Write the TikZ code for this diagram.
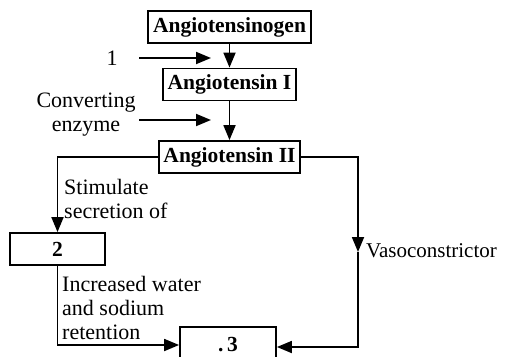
\documentclass[tikz,border=0pt]{standalone}
\usepackage{fontspec}
\setmainfont{Liberation Serif}
\usetikzlibrary{arrows.meta}
\begin{document}
\begin{tikzpicture}[x=1pt,y=-1pt,
  every node/.style={font=\fontsize{22}{24}\selectfont, inner sep=0pt},
  box/.style={draw, line width=1.8pt, minimum height=32pt, font=\fontsize{21.5}{25}\selectfont\bfseries},
  lab/.style={align=left, anchor=west},
  conn/.style={line width=1.8pt},
  arr/.style={conn, -{Triangle[length=15pt,width=12pt]}}
]
\useasboundingbox (0,0) rectangle (505,356);
\node[box, minimum width=163pt] (a) at (229.5,27) {Angiotensinogen};
\node[box, minimum width=133pt] (b) at (229.5,84.5) {Angiotensin I};
\node[box, minimum width=141pt] (c) at (229.5,157) {Angiotensin II};
\node[box, minimum width=95pt] (d) at (57.5,249) {2};
\node[box, minimum width=96pt, minimum height=36pt] (e) at (228,345) {.\,3};

\node (one) at (112,58) {1};
\node[align=center] (conv) at (86,115) {Converting\\enzyme};
\node[lab] (stim) at (64,199) {Stimulate\\secretion of};
\node[lab] (incr) at (62,308) {Increased water\\and sodium\\retention};
\node[lab, font=\fontsize{21}{24}\selectfont] (vaso) at (366,251) {Vasoconstrictor};

\coordinate (s1) at (139,58);
\coordinate (t1) at (211,58);
\coordinate (s2) at (139,120);
\coordinate (t2) at (211,120);
\coordinate (r1) at (358,252);
\coordinate (r2) at (358,347);

\draw[arr] (a.south) -- (b.north);
\draw[arr] (b.south) -- (c.north);
\draw[arr] (s1) -- (t1);
\draw[arr] (s2) -- (t2);
\draw[arr] (c.west) -| (d.north);
\draw[arr] (c.east) -| (r1);
\draw[arr] (r1) -- (r2) -- (e.east |- r2);
\draw[arr] (d.south) |- (e.west);
\end{tikzpicture}
\end{document}
